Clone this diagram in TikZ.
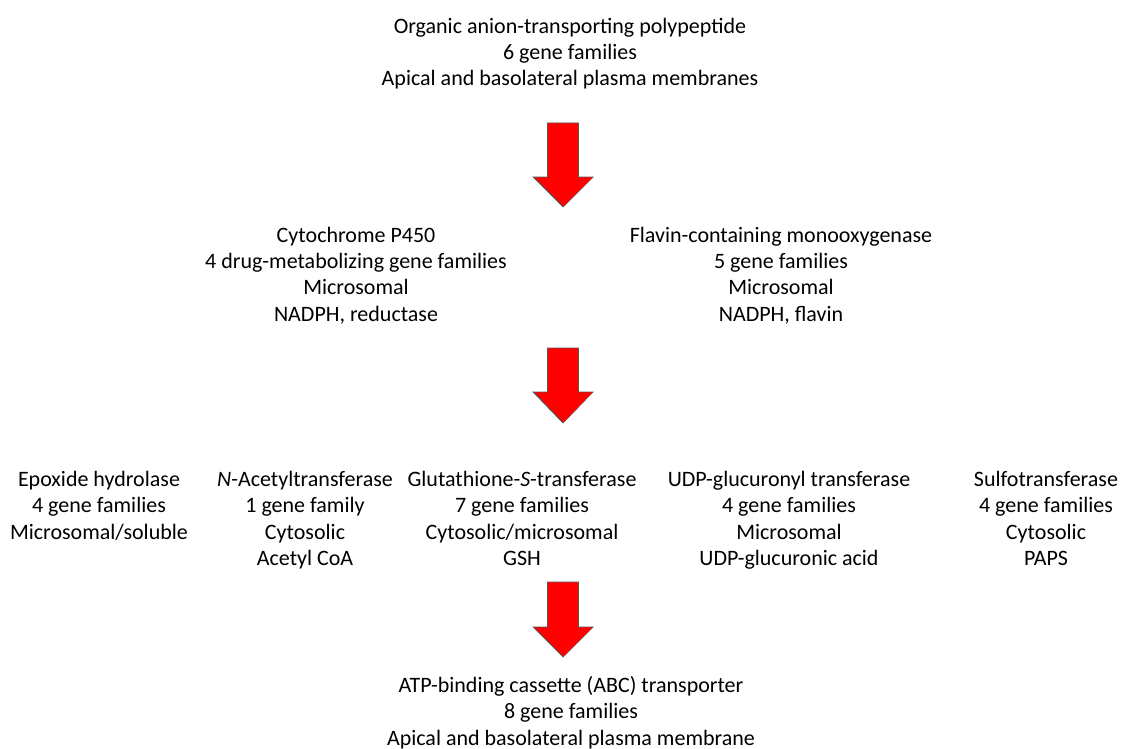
\documentclass[tikz,border=0pt]{standalone}
\usepackage{fontspec}
\setmainfont{Carlito}
\usepackage{xcolor}
\usepackage{tikz}
\usetikzlibrary{calc}

\begin{document}
\begin{tikzpicture}[x=1pt, y=-1pt]
% Coordinate model: one unit per pixel of the 1121 x 749 page, y running down.
% Text nodes are placed by the baseline of their last line.
\tikzset{
  blk/.style={align=center, inner sep=0pt, anchor=base,
    font=\fontsize{22}{26.3}\selectfont},
  redarrow/.style={fill=red, draw=black!65, line width=0.7pt, line join=miter}
}
% block arrow: #1 = name, #2 = centre x, #3 = top, #4 = start of head, #5 = tip
\newcommand{\blockarrow}[5]{%
  \draw[redarrow] (#2-15.5,#3) -- (#2+15.5,#3) -- (#2+15.5,#4) -- (#2+30,#4)
    -- (#2,#5) coordinate (#1) -- (#2-30,#4) -- (#2-15.5,#4) -- cycle;}

\fill[white] (0,0) rectangle (1121,749);
\useasboundingbox (0,0) rectangle (1121,749);

% --- Uptake ---
\node[blk] (oatp) at (570,86)
  {Organic anion-transporting polypeptide\\6 gene families\\Apical and basolateral plasma membranes};

\blockarrow{arrA}{563}{123}{177}{207}

% --- Phase I ---
\node[blk] (cyp) at (356,321)
  {Cytochrome P450\\4 drug-metabolizing gene families\\Microsomal\\NADPH, reductase};
\node[blk] (fmo) at (781,321)
  {Flavin-containing monooxygenase\\5 gene families\\Microsomal\\NADPH, flavin};

\blockarrow{arrB}{563}{348}{392}{423}

% --- Phase II ---
\node[blk] (eh) at (99,539)
  {Epoxide hydrolase\\4 gene families\\Microsomal/soluble};
\node[blk] (nat) at (305,565.5)
  {\textit{N}-Acetyltransferase\\1 gene family\\Cytosolic\\Acetyl CoA};
\node[blk] (gst) at (522,565.5)
  {Glutathione-\textit{S}-transferase\\7 gene families\\Cytosolic/microsomal\\GSH};
\node[blk] (ugt) at (789,565.5)
  {UDP-glucuronyl transferase\\4 gene families\\Microsomal\\UDP-glucuronic acid};
\node[blk] (sult) at (1046,565.5)
  {Sulfotransferase\\4 gene families\\Cytosolic\\PAPS};

\blockarrow{arrC}{563}{582}{627}{657}

% --- Efflux ---
\node[blk] (abc) at (571,745)
  {ATP-binding cassette (ABC) transporter\\8 gene families\\Apical and basolateral plasma membrane};
\end{tikzpicture}
\end{document}
